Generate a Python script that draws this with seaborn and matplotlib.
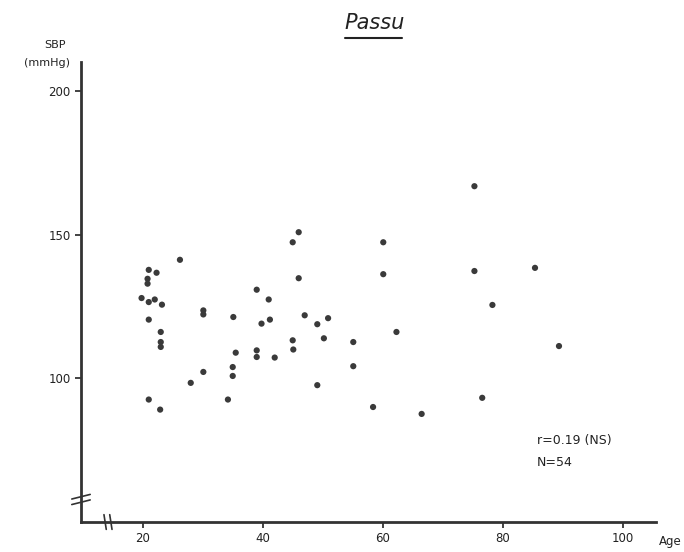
import numpy as np
import pandas as pd
import matplotlib.pyplot as plt
import seaborn as sns
from matplotlib.lines import Line2D

# Passu: age vs systolic blood pressure
age = [21.0, 22.3, 20.8, 20.8, 26.2, 19.8, 21.0, 22.0, 23.2, 21.0,
       23.0, 23.0, 23.0, 30.1, 30.1, 35.1, 39.0, 41.0, 39.8, 41.2,
       35.5, 35.0, 35.0, 30.1, 28.0, 21.0, 22.9, 34.2, 39.0, 39.0,
       42.0, 45.0, 45.1, 45.0, 46.0, 46.0, 75.3, 60.1, 60.1, 75.3,
       78.3, 47.0, 49.1, 50.9, 50.2, 55.1, 62.3, 55.1, 49.1, 58.4,
       66.5, 76.6, 85.4, 89.4]
sbp = [137.7, 136.7, 134.6, 132.9, 141.2, 127.9, 126.5, 127.4, 125.6, 120.4,
       116.1, 112.6, 110.9, 123.6, 122.2, 121.3, 130.8, 127.4, 119.0, 120.4,
       108.9, 103.9, 100.8, 102.2, 98.4, 92.6, 89.1, 92.6, 109.7, 107.4,
       107.2, 113.2, 110.0, 147.3, 150.8, 134.8, 166.8, 147.3, 136.2, 137.3,
       125.5, 121.9, 118.8, 120.9, 113.9, 112.6, 116.1, 104.2, 97.6, 90.0,
       87.6, 93.2, 138.4, 111.2]
x_ticks = [20, 40, 60, 80, 100]
y_ticks = [100, 150, 200]

df = pd.DataFrame({"Age": age, "SBP": sbp})

sns.set_style("ticks")
plt.rcParams['font.family'] = ['DejaVu Sans']

fig = plt.figure(figsize=(6.84, 5.52), dpi=100)
ax = fig.add_axes([0.1184, 0.0543, 0.84, 0.8334])

sns.scatterplot(data=df, x="Age", y="SBP", ax=ax, color="#3a3a3a",
                s=20, edgecolor="none", legend=False)

ax.set_xlim(9.7, 105.5)
ax.set_ylim(50, 210)
ax.set_xticks(x_ticks)
ax.set_yticks(y_ticks)
ax.set_xlabel("")
ax.set_ylabel("")
ax.tick_params(axis="both", direction="out", length=4, width=1.2,
               labelsize=8.5, colors="#222222")
for side in ["top", "right"]:
    ax.spines[side].set_visible(False)
for side in ["left", "bottom"]:
    ax.spines[side].set_linewidth(2)
    ax.spines[side].set_color("#333333")

# axis labels placed like the original
fig.text(0.080, 0.918, "SBP", ha="center", va="center", fontsize=8, color="#222222")
fig.text(0.068, 0.886, "(mmHg)", ha="center", va="center", fontsize=8, color="#222222")
ax.text(1.005, -0.042, "Age", transform=ax.transAxes, ha="left", va="center",
        fontsize=8.5, color="#222222", clip_on=False)

# title with underline
fig.text(0.547, 0.958, "Passu", ha="center", va="center", fontsize=15,
         style="italic", color="#222222")
fig.add_artist(Line2D([0.504, 0.588], [0.931, 0.931], transform=fig.transFigure,
                      color="#222222", lw=1.5))

# stats text
ax.text(0.794, 0.178, "r=0.19 (NS)", transform=ax.transAxes, fontsize=9,
        va="center", color="#222222")
ax.text(0.794, 0.13, "N=54", transform=ax.transAxes, fontsize=9,
        va="center", color="#222222")

# axis break marks
for dy in (0.0, 0.012):
    ax.plot([-0.016, 0.016], [0.038 + dy, 0.048 + dy], transform=ax.transAxes,
            color="#333333", lw=1.2, clip_on=False)
for dx in (0.0, 0.01):
    ax.plot([0.044 + dx, 0.040 + dx], [-0.016, 0.016], transform=ax.transAxes,
            color="#333333", lw=1.2, clip_on=False)

fig.savefig("out.png", dpi=100)
